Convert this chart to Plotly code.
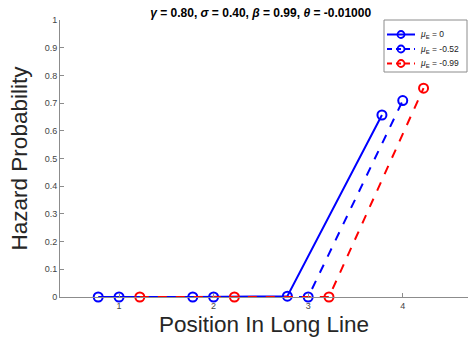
import plotly.graph_objects as go

# Hazard probability at each position in the long line, for three mu_E values
positions = [1, 2, 3, 4]
hazard_mu0 = [0.0, 0.0, 0.003, 0.657]
hazard_mu052 = [0.0, 0.0, 0.0, 0.709]
hazard_mu099 = [0.0, 0.0, 0.0, 0.754]

# horizontal offsets so the three series sit side by side at each position
offsets = [-0.22, 0.0, 0.22]
series_names = ["<i>μ</i><sub>E</sub> = 0", "<i>μ</i><sub>E</sub> = -0.52", "<i>μ</i><sub>E</sub> = -0.99"]
series_values = [hazard_mu0, hazard_mu052, hazard_mu099]
series_colors = ["#0000ff", "#0000ff", "#ff0000"]
series_dash = ["solid", "dash", "dash"]

x_ticks = [1, 2, 3, 4]
y_ticks = [0, 0.1, 0.2, 0.3, 0.4, 0.5, 0.6, 0.7, 0.8, 0.9, 1]
y_tick_text = ["0", "0.1", "0.2", "0.3", "0.4", "0.5", "0.6", "0.7", "0.8", "0.9", "1"]

W, H = 468, 343
M_L, M_R, M_T, M_B = 60, 0, 20, 46
PLOT_W = W - M_L - M_R
PLOT_H = H - M_T - M_B


def px_to_paper_x(px):
    return (px - M_L) / PLOT_W


def px_to_paper_y(py):
    return (H - M_B - py) / PLOT_H


fig = go.Figure()
for name, vals, off, col, dash in zip(series_names, series_values, offsets, series_colors, series_dash):
    fig.add_trace(go.Scatter(
        x=[p + off for p in positions],
        y=vals,
        name=name,
        showlegend=False,
        mode="lines+markers",
        line=dict(color=col, width=2, dash=dash),
        marker=dict(symbol="circle-open", size=9, color=col, line=dict(width=2, color=col)),
        cliponaxis=False,
    ))

axis_grey = "#8c8c8c"
base_font = "Liberation Sans, Arial, sans-serif"
tick_font = dict(family=base_font, size=9, color="#444444")

# compact legend box in the top-right corner, built from shapes and annotations
shapes = [dict(
    type="rect", xref="paper", yref="paper",
    x0=px_to_paper_x(384), x1=px_to_paper_x(467),
    y0=px_to_paper_y(72), y1=px_to_paper_y(20),
    line=dict(color=axis_grey, width=1), fillcolor="white", layer="above",
)]
annotations = []
row_y = [34.5, 49, 63.5]
for name, col, dash, ry in zip(series_names, series_colors, series_dash, row_y):
    yp = px_to_paper_y(ry)
    shapes.append(dict(
        type="line", xref="paper", yref="paper",
        x0=px_to_paper_x(387), x1=px_to_paper_x(415), y0=yp, y1=yp,
        line=dict(color=col, width=2, dash="solid" if dash == "solid" else "5px,4px"),
        layer="above",
    ))
    shapes.append(dict(
        type="circle", xref="paper", yref="paper",
        xsizemode="pixel", ysizemode="pixel",
        xanchor=px_to_paper_x(401), yanchor=yp,
        x0=-3.5, x1=3.5, y0=-3.5, y1=3.5,
        line=dict(color=col, width=1.8), fillcolor="rgba(0,0,0,0)",
        layer="above",
    ))
    annotations.append(dict(
        text=name, xref="paper", yref="paper",
        x=px_to_paper_x(418), y=yp, xanchor="left", yanchor="middle",
        showarrow=False, font=dict(family=base_font, size=8.5, color="#222222"),
    ))

fig.update_layout(
    width=W,
    height=H,
    paper_bgcolor="white",
    plot_bgcolor="white",
    margin=dict(l=M_L, r=M_R, t=M_T, b=M_B),
    title=dict(
        text="<b><i>γ</i> = 0.80, <i>σ</i> = 0.40, <i>β</i> = 0.99, <i>θ</i> = -0.01000</b>",
        x=0.557, xanchor="center", y=0.962, yanchor="middle",
        font=dict(family=base_font, size=12, color="black"),
    ),
    showlegend=False,
    shapes=shapes,
    annotations=annotations,
    xaxis=dict(
        range=[0.376, 4.69],
        tickvals=x_ticks,
        ticktext=[str(t) for t in x_ticks],
        ticks="inside", ticklen=4, tickcolor=axis_grey,
        showline=True, linecolor=axis_grey, linewidth=1,
        showgrid=False, zeroline=False,
        tickfont=tick_font,
        title=dict(text="Position In Long Line",
                   font=dict(family=base_font, size=22.5, color="#262626"),
                   standoff=6),
    ),
    yaxis=dict(
        range=[0, 1],
        tickvals=y_ticks,
        ticktext=y_tick_text,
        ticks="inside", ticklen=4, tickcolor=axis_grey,
        showline=True, linecolor=axis_grey, linewidth=1,
        showgrid=False, zeroline=False,
        tickfont=tick_font,
        title=dict(text="Hazard Probability",
                   font=dict(family=base_font, size=22.5, color="#262626"),
                   standoff=10),
    ),
)

fig.write_html("out.html")
